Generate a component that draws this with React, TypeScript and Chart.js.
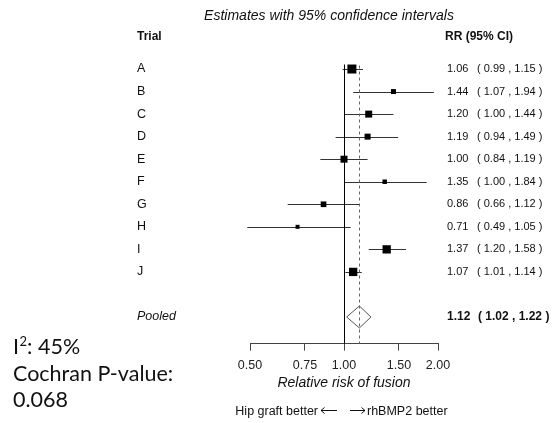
import { useEffect, useRef } from "react";
import { Chart, registerables } from "chart.js";

Chart.register(...registerables);

// ---- Data ----
const trials = ["A", "B", "C", "D", "E", "F", "G", "H", "I", "J"];
const rr = [1.06, 1.44, 1.2, 1.19, 1.0, 1.35, 0.86, 0.71, 1.37, 1.07];
const lower = [0.99, 1.07, 1.0, 0.94, 0.84, 1.0, 0.66, 0.49, 1.2, 1.01];
const upper = [1.15, 1.94, 1.44, 1.49, 1.19, 1.84, 1.12, 1.05, 1.58, 1.14];
// relative study weights (square area)
const weights = [18.2, 5.6, 11.0, 8.1, 11.0, 4.5, 7.2, 3.6, 15.5, 15.5];
const pooledLabel = "Pooled";
const pooledRR = 1.12;
const pooledLower = 1.02;
const pooledUpper = 1.22;
const pooledRow = 11;
const tickValues = [0.5, 0.75, 1, 1.5, 2];
const tickLabels = ["0.50", "0.75", "1.00", "1.50", "2.00"];
const i2Text = "45%";
const cochranP = "0.068";

const FONT = "'Liberation Sans', Arial, sans-serif";
const BIG = "Lato, 'Open Sans', sans-serif";
const fmt = (v: number) => v.toFixed(2);

const forestPlugin = {
  id: "forest",
  beforeDatasetsDraw(chart: any) {
    const { ctx, scales, chartArea } = chart;
    const x = scales.x;
    const y = scales.y;
    ctx.save();
    ctx.lineWidth = 1;

    // CI lines
    ctx.strokeStyle = "#333";
    trials.forEach((_, i) => {
      const py = Math.round(y.getPixelForValue(i)) + 0.5;
      ctx.beginPath();
      ctx.moveTo(x.getPixelForValue(lower[i]), py);
      ctx.lineTo(x.getPixelForValue(upper[i]), py);
      ctx.stroke();
    });

    // pooled diamond
    const dy = y.getPixelForValue(pooledRow);
    const h = 11;
    ctx.beginPath();
    ctx.moveTo(x.getPixelForValue(pooledLower), dy);
    ctx.lineTo(x.getPixelForValue(pooledRR), dy - h);
    ctx.lineTo(x.getPixelForValue(pooledUpper), dy);
    ctx.lineTo(x.getPixelForValue(pooledRR), dy + h);
    ctx.closePath();
    ctx.fillStyle = "#fff";
    ctx.fill();
    ctx.strokeStyle = "#555";
    ctx.stroke();

    // reference lines
    const top = y.getPixelForValue(-0.2);
    const bottom = chartArea.bottom;
    const x1 = Math.round(x.getPixelForValue(1)) + 0.5;
    ctx.strokeStyle = "#000";
    ctx.beginPath();
    ctx.moveTo(x1, top);
    ctx.lineTo(x1, bottom);
    ctx.stroke();

    const xp = Math.round(x.getPixelForValue(pooledRR)) + 0.5;
    ctx.strokeStyle = "#666";
    ctx.setLineDash([3, 3]);
    ctx.beginPath();
    ctx.moveTo(xp, top + 1);
    ctx.lineTo(xp, bottom);
    ctx.stroke();
    ctx.setLineDash([]);
    ctx.restore();
  },
  afterDraw(chart: any) {
    const { ctx, scales } = chart;
    const y = scales.y;
    ctx.save();
    ctx.fillStyle = "#111";

    // title
    ctx.font = `italic 14px ${FONT}`;
    ctx.textAlign = "center";
    ctx.textBaseline = "alphabetic";
    ctx.fillText("Estimates with 95% confidence intervals", 329, 20);

    // headers
    ctx.textAlign = "left";
    ctx.font = `bold 12px ${FONT}`;
    ctx.fillText("Trial", 137, 40);
    ctx.fillText("RR (95% CI)", 445, 40);

    // rows
    ctx.textBaseline = "middle";
    trials.forEach((t, i) => {
      const py = y.getPixelForValue(i);
      ctx.font = `12.5px ${FONT}`;
      ctx.fillText(t, 137, py);
      ctx.font = `11px ${FONT}`;
      ctx.fillText(fmt(rr[i]), 447, py);
      ctx.fillText(`( ${fmt(lower[i])} , ${fmt(upper[i])} )`, 477, py);
    });
    const pp = y.getPixelForValue(pooledRow);
    ctx.font = `italic 12.5px ${FONT}`;
    ctx.fillText(pooledLabel, 137, pp);
    ctx.font = `bold 12px ${FONT}`;
    ctx.fillText(fmt(pooledRR), 447, pp);
    ctx.fillText(`( ${fmt(pooledLower)} , ${fmt(pooledUpper)} )`, 478, pp);

    // favours text
    ctx.font = `12.5px ${FONT}`;
    ctx.textBaseline = "alphabetic";
    ctx.textAlign = "right";
    ctx.fillText("Hip graft better", 318, 415);
    ctx.textAlign = "left";
    ctx.fillText("rhBMP2 better", 367, 415);
    ctx.strokeStyle = "#111";
    ctx.lineWidth = 1;
    const ay = 410.5;
    ctx.beginPath();
    ctx.moveTo(321, ay);
    ctx.lineTo(337, ay);
    ctx.moveTo(324.5, ay - 3);
    ctx.lineTo(321, ay);
    ctx.lineTo(324.5, ay + 3);
    ctx.moveTo(350, ay);
    ctx.lineTo(365, ay);
    ctx.moveTo(361.5, ay - 3);
    ctx.lineTo(365, ay);
    ctx.lineTo(361.5, ay + 3);
    ctx.stroke();

    // heterogeneity text
    const big = 21.5;
    const lx = 13;
    ctx.fillStyle = "#111";
    ctx.font = `${big}px ${BIG}`;
    ctx.textAlign = "left";
    ctx.fillText("I", lx, 354);
    const iw = ctx.measureText("I").width;
    ctx.font = `${Math.round(big * 0.62)}px ${BIG}`;
    ctx.fillText("2", lx + iw + 0.5, 346);
    const sw = ctx.measureText("2").width;
    ctx.font = `${big}px ${BIG}`;
    ctx.fillText(`: ${i2Text}`, lx + iw + 0.5 + sw, 354);
    ctx.fillText("Cochran P-value:", lx, 381);
    ctx.fillText(cochranP, lx, 407);
    ctx.restore();
  },
};

export default function App() {
  const ref = useRef<HTMLCanvasElement>(null);
  useEffect(() => {
    if (!ref.current) return;
    const chart = new Chart(ref.current, {
      type: "scatter",
      data: {
        datasets: [
          {
            data: trials.map((_, i) => ({ x: rr[i], y: i })),
            pointStyle: "rect",
            pointRadius: weights.map((w) => 1.49 * Math.sqrt(w)),
            backgroundColor: "#000",
            borderWidth: 0,
            clip: false as any,
          },
        ],
      },
      options: {
        responsive: false,
        animation: false,
        events: [],
        layout: { padding: { left: 250, right: 115, top: 60, bottom: 31.6 } },
        plugins: { legend: { display: false }, tooltip: { enabled: false } },
        scales: {
          x: {
            type: "logarithmic",
            min: 0.5,
            max: 2,
            afterBuildTicks: (s: any) => {
              s.ticks = tickValues.map((v) => ({ value: v }));
            },
            ticks: {
              autoSkip: false,
              maxRotation: 0,
              padding: 7.5,
              color: "#222",
              font: { family: FONT, size: 12.5 },
              callback: (v: any) => tickLabels[tickValues.indexOf(Number(v))],
            },
            grid: { drawOnChartArea: false, drawTicks: true, tickLength: 7, color: "#444" },
            border: { display: true, color: "#444" },
            title: {
              display: true,
              text: "Relative risk of fusion",
              color: "#111",
              font: { family: FONT, size: 14, style: "italic" },
              padding: { top: -6, bottom: 0 },
            },
          },
          y: { type: "linear", reverse: true, min: -0.4, max: 12.18, display: false },
        },
      },
      plugins: [forestPlugin],
    } as any);
    return () => chart.destroy();
  }, []);
  return (
    <div style={{ position: "fixed", left: 0, top: 0, width: 553, height: 423, background: "#fff" }}>
      <canvas ref={ref} width={553} height={423} style={{ display: "block" }} />
    </div>
  );
}
